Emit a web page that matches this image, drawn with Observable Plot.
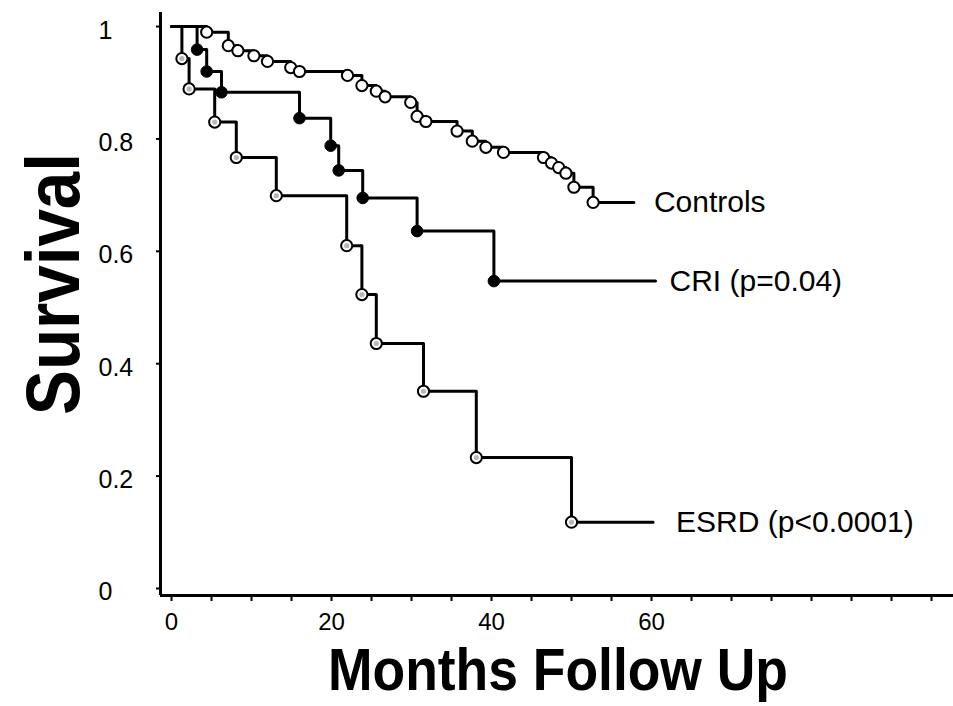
<!DOCTYPE html>
<html>
<head>
<meta charset="utf-8">
<script src="https://cdn.jsdelivr.net/npm/d3@7"></script>
<script src="https://cdn.jsdelivr.net/npm/@observablehq/plot@0.6"></script>
<style>
  html, body { margin: 0; padding: 0; background: #fff; }
  #chart { width: 953px; height: 706px; }
</style>
</head>
<body>
<div id="chart"></div>
<script>
const seriesNames = ["Controls", "CRI (p=0.04)", "ESRD (p<0.0001)"];

const controlsTime = [4.4, 7.1, 8.3, 10.3, 12.0, 14.9, 16.0, 22.0, 23.8, 25.6, 26.7, 29.9, 30.7, 31.8, 35.7, 37.6, 39.3, 41.5, 46.5, 47.5, 48.4, 49.3, 50.3, 52.7];
const controlsSurv = [0.990, 0.966, 0.957, 0.948, 0.938, 0.927, 0.920, 0.913, 0.895, 0.885, 0.875, 0.865, 0.840, 0.831, 0.814, 0.796, 0.785, 0.776, 0.767, 0.757, 0.749, 0.739, 0.714, 0.687];
const controlsEnd = 57.8;

const criTime = [3.2, 4.4, 6.25, 16.0, 19.9, 20.9, 23.9, 30.7, 40.3];
const criSurv = [0.959, 0.920, 0.883, 0.837, 0.788, 0.744, 0.695, 0.636, 0.547];
const criEnd = 60.5;

const esrdTime = [1.3, 2.2, 5.4, 8.1, 13.1, 21.9, 23.8, 25.6, 31.5, 38.1, 50.0];
const esrdSurv = [0.943, 0.889, 0.830, 0.767, 0.699, 0.610, 0.523, 0.436, 0.351, 0.233, 0.118];
const esrdEnd = 60.2;

const xTickLabels = [0, 20, 40, 60];
const xTickMarks = [0, 5, 10, 15, 20, 25, 30, 35, 40, 45, 50, 55, 60, 65, 70, 75, 80, 85, 90, 95];
const yTickLabels = [0, 0.2, 0.4, 0.6, 0.8, 1];
const xTitle = "Months Follow Up";
const yTitle = "Survival";

// ---- Build tables ----
function curveRows(name, times, surv, end) {
  const rows = [{name, t: 0, s: 1}];
  times.forEach((t, i) => rows.push({name, t, s: surv[i]}));
  rows.push({name, t: end, s: surv[surv.length - 1]});
  return rows;
}
function eventRows(name, times, surv) {
  return times.map((t, i) => ({name, t, s: surv[i]}));
}
const curves = [
  curveRows(seriesNames[0], controlsTime, controlsSurv, controlsEnd),
  curveRows(seriesNames[1], criTime, criSurv, criEnd),
  curveRows(seriesNames[2], esrdTime, esrdSurv, esrdEnd)
];
const allRows = curves.flat();
const ctrlEvents = eventRows(seriesNames[0], controlsTime, controlsSurv);
const criEvents = eventRows(seriesNames[1], criTime, criSurv);
const esrdEvents = eventRows(seriesNames[2], esrdTime, esrdSurv);
const labelEnds = curves.map(c => c[c.length - 1]);
const labelDx = [20, 14, 23];

const xDomain = [-1.375, 97.75];
const yDomain = [-0.0125, 1.025];
const FONT = "Liberation Sans, Arial, Helvetica, sans-serif";

const chart = Plot.plot({
  width: 953,
  height: 706,
  marginLeft: 160,
  marginRight: 0,
  marginTop: 12,
  marginBottom: 111,
  x: {domain: xDomain},
  y: {domain: yDomain},
  style: {fontFamily: FONT, background: "#fff", color: "#000"},
  marks: [
    // tick marks only (labels are drawn as text marks below)
    Plot.axisX({ticks: xTickMarks, tickSize: 6, tickFormat: () => "", strokeWidth: 2, label: null}),
    Plot.axisY({ticks: yTickLabels, tickSize: 4, tickFormat: () => "", strokeWidth: 2, label: null}),
    Plot.text(xTickLabels, {
      x: d => d, frameAnchor: "bottom", dy: 17, lineAnchor: "top",
      text: d => String(d), fontSize: 24, fontFamily: FONT, fill: "#000"
    }),
    Plot.text(yTickLabels, {
      y: d => d, frameAnchor: "left", dx: -62, dy: 4, textAnchor: "start",
      text: d => String(d), fontSize: 25, fontFamily: FONT, fill: "#000"
    }),
    Plot.ruleX([xDomain[0]], {stroke: "#000", strokeWidth: 3}),
    Plot.ruleY([yDomain[0]], {stroke: "#000", strokeWidth: 3}),
    Plot.line(allRows, {x: "t", y: "s", z: "name", curve: "step-after", stroke: "#000", strokeWidth: 3}),
    Plot.dot(ctrlEvents, {x: "t", y: "s", r: 5.6, fill: "#fff", stroke: "#000", strokeWidth: 2}),
    Plot.dot(criEvents, {x: "t", y: "s", r: 5.8, fill: "#000", stroke: "#000", strokeWidth: 1}),
    Plot.dot(esrdEvents, {x: "t", y: "s", r: 5.6, fill: "#fff", stroke: "#000", strokeWidth: 2}),
    Plot.dot(esrdEvents, {x: "t", y: "s", r: 2.6, fill: "#b8b8b8"}),
    ...labelEnds.map((d, i) => Plot.text([d], {
      x: "t", y: "s", text: "name", textAnchor: "start", dx: labelDx[i], fontSize: 30, fontFamily: FONT, fill: "#000"
    }))
  ]
});
document.getElementById("chart").appendChild(chart);

// ---- Axis titles (bold), placed in the SVG ----
const svgSel = d3.select(chart);
svgSel.append("text")
  .attr("x", 558).attr("y", 690)
  .attr("text-anchor", "middle")
  .attr("font-family", FONT).attr("font-weight", "bold").attr("font-size", 60)
  .attr("textLength", 460).attr("lengthAdjust", "spacingAndGlyphs")
  .attr("fill", "#000")
  .text(xTitle);
svgSel.append("text")
  .attr("transform", "translate(79,284) rotate(-90)")
  .attr("text-anchor", "middle")
  .attr("font-family", FONT).attr("font-weight", "bold").attr("font-size", 76)
  .attr("textLength", 262).attr("lengthAdjust", "spacingAndGlyphs")
  .attr("fill", "#000")
  .text(yTitle);
</script>
</body>
</html>
